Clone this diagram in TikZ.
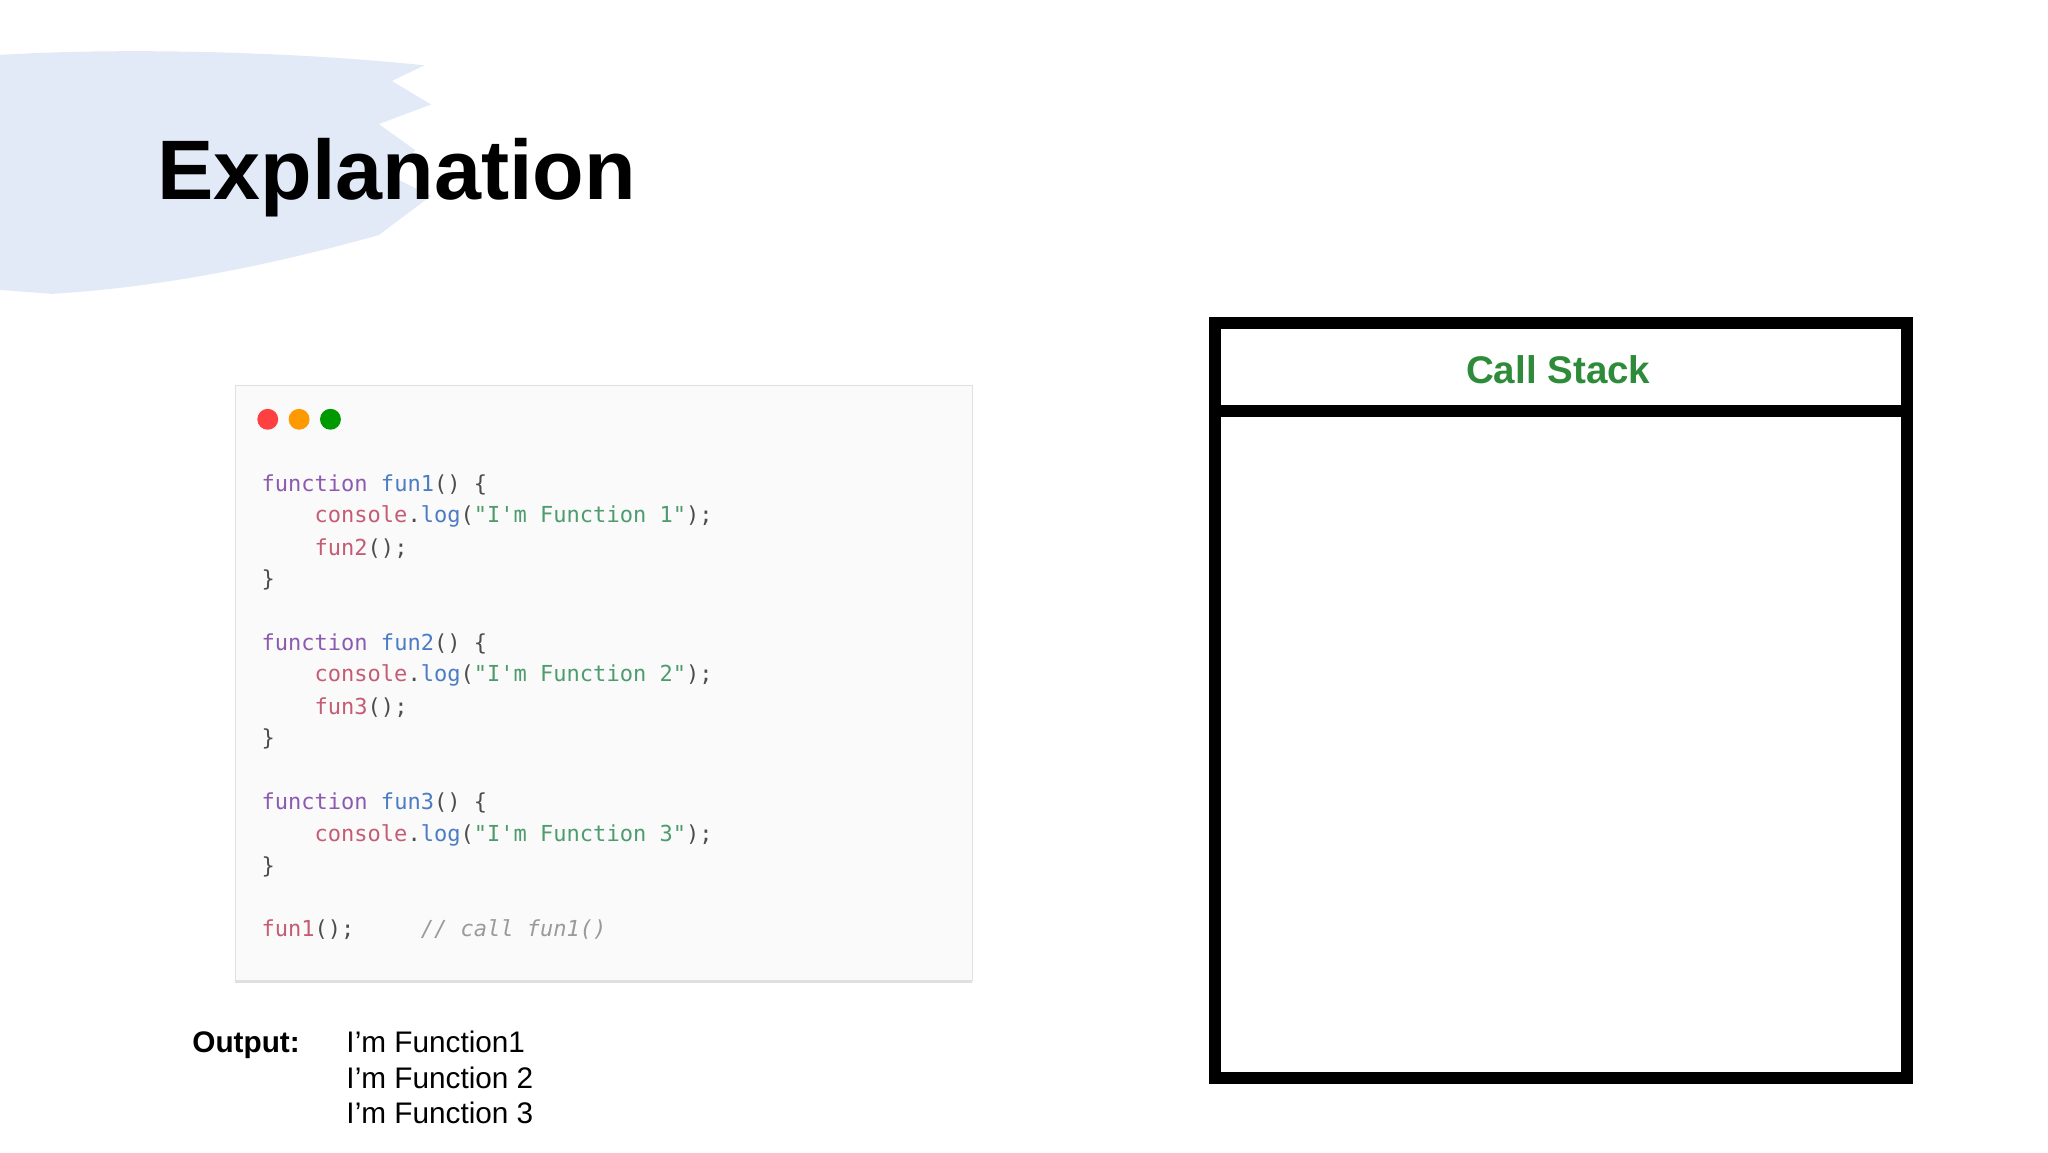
\documentclass[tikz,border=0pt]{standalone}
\usepackage{fontspec}
\setmainfont{Liberation Sans}
\setmonofont{DejaVu Sans Mono}
\usetikzlibrary{shadows}
\definecolor{brush}{HTML}{E3EAF7}
\definecolor{kw}{HTML}{8B5BAF}
\definecolor{fn}{HTML}{4C7CC4}
\definecolor{obj}{HTML}{C45C74}
\definecolor{str}{HTML}{4E9C6E}
\definecolor{cmt}{HTML}{9A9A9A}
\definecolor{stackgreen}{HTML}{2E8B3A}
\newcommand{\K}[1]{\textcolor{kw}{#1}}
\newcommand{\F}[1]{\textcolor{fn}{#1}}
\newcommand{\Ob}[1]{\textcolor{obj}{#1}}
\newcommand{\St}[1]{\textcolor{str}{#1}}
\begin{document}
\begin{tikzpicture}[x=0.25mm, y=-0.25mm,
    code line/.style={anchor=base west, inner sep=0pt, font=\fontsize{12}{14}\ttfamily, text=black!70},
    out line/.style={anchor=base west, inner sep=0pt, font=\fontsize{16.2}{18}\selectfont},
    dot/.style={circle, inner sep=0pt, minimum size=4mm}]
    \useasboundingbox (0,0) rectangle (1568,882);
    % brush stroke behind the title
    \fill[brush] (0,42) .. controls (100,36) and (230,40) .. (325,50)
        -- (300,62) -- (330,80) -- (290,95) -- (318,115) -- (300,135)
        -- (330,150) -- (310,165) -- (290,180) .. controls (200,205) and (120,220) .. (40,225)
        -- (0,222) -- cycle;
    \node[anchor=base west, inner sep=0pt, font=\fontsize{46}{50}\bfseries] (title) at (120,153) {Explanation};
    % code window
    \node[draw=black!12, fill=black!2, minimum width=564*0.25mm, minimum height=455*0.25mm,
        drop shadow={opacity=0.25, shadow xshift=0pt, shadow yshift=-0.6mm}, anchor=north west] (window) at (180,295) {};
    \node[dot, fill=red!75] (d1) at (205,321) {};
    \node[dot, fill=orange!80!yellow] (d2) at (229,321) {};
    \node[dot, fill=green!60!black] (d3) at (253,321) {};
    \node[code line] (c1) at (200,376) {\K{function} \F{fun1}() \{};
    \node[code line] (c2) at (200,400) {\ \ \ \ \Ob{console}.\F{log}(\St{"I'm Function 1"});};
    \node[code line] (c3) at (200,425) {\ \ \ \ \Ob{fun2}();};
    \node[code line] (c4) at (200,449) {\}};
    \node[code line] (c5) at (200,498) {\K{function} \F{fun2}() \{};
    \node[code line] (c6) at (200,522) {\ \ \ \ \Ob{console}.\F{log}(\St{"I'm Function 2"});};
    \node[code line] (c7) at (200,547) {\ \ \ \ \Ob{fun3}();};
    \node[code line] (c8) at (200,571) {\}};
    \node[code line] (c9) at (200,620) {\K{function} \F{fun3}() \{};
    \node[code line] (c10) at (200,644) {\ \ \ \ \Ob{console}.\F{log}(\St{"I'm Function 3"});};
    \node[code line] (c11) at (200,669) {\}};
    \node[code line] (c12) at (200,717) {\Ob{fun1}();\ \ \ \ \ \textcolor{cmt}{\itshape// call fun1()}};
    % output
    \node[out line, font=\fontsize{16.2}{18}\bfseries] (out) at (147,806) {Output:};
    \node[out line] (o1) at (265,806) {I’m Function1};
    \node[out line] (o2) at (265,833) {I’m Function 2};
    \node[out line] (o3) at (265,860) {I’m Function 3};
    % call stack
    \draw[line width=2.3mm] (930,247) rectangle (1460,825);
    \draw[line width=2.3mm] (930,315) -- (1460,315);
    \node[font=\fontsize{21}{24}\bfseries, text=stackgreen] (stack) at (1193,283) {Call Stack};
\end{tikzpicture}
\end{document}
